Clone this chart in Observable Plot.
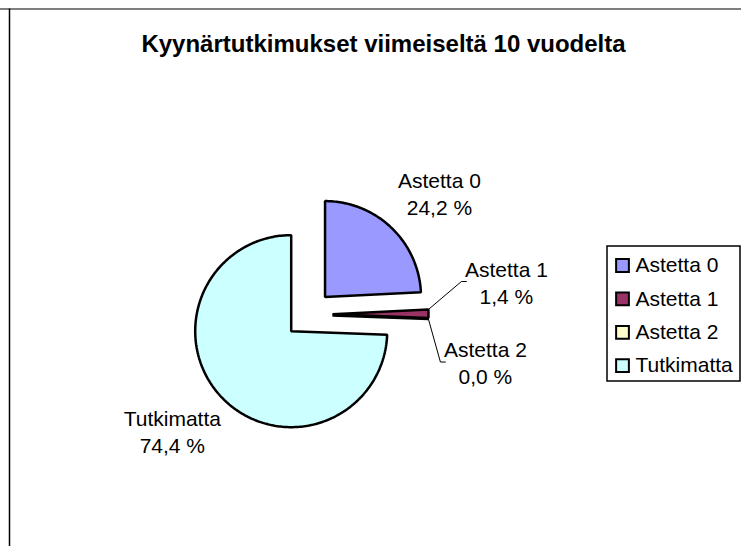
<!DOCTYPE html>
<html><head><meta charset="utf-8">
<script src="https://cdn.jsdelivr.net/npm/d3@7"></script>
<script src="https://cdn.jsdelivr.net/npm/@observablehq/plot@0.6"></script>
<style>body{margin:0;background:#fff;font-family:"Liberation Sans",Arial,sans-serif}</style>
</head><body><div id="chart"></div>
<script>
const title = "Kyynärtutkimukset viimeiseltä 10 vuodelta";
const categories = ["Astetta 0", "Astetta 1", "Astetta 2", "Tutkimatta"];
const percents = [24.2, 1.4, 0.0, 74.4];
const colors = ["#9999FF", "#993366", "#FFFFCC", "#CCFFFF"];

// layout
const W = 741, H = 546;
const cx = 308, cy = 314, R = 96, explode = 24;
const labelDist = 155, labelTurn = 4 * Math.PI / 180;
const leaderLayout = {"Astetta 1": [33, -28], "Astetta 2": [12, 43]};
const fmt = v => v.toFixed(1).replace(".", ",") + " %";

const arcs = d3.pie().sort(null).value(d => d)(percents);
const pt = (x0, y0, a, r) => [x0 + r * Math.sin(a), y0 - r * Math.cos(a)];

const slicePts = [];
const labels = [];
const leaders = [];
arcs.forEach((a, i) => {
  const cat = categories[i];
  const mid = (a.startAngle + a.endAngle) / 2;
  const [ox, oy] = pt(cx, cy, mid, explode);
  slicePts.push({cat, x: ox, y: oy});
  const n = Math.max(1, Math.ceil((a.endAngle - a.startAngle) / (Math.PI / 180)));
  for (let k = 0; k <= n; k++) {
    const t = a.startAngle + (a.endAngle - a.startAngle) * k / n;
    const [x, y] = pt(ox, oy, t, R);
    slicePts.push({cat, x, y});
  }
  const text = cat + "\n" + fmt(percents[i]);
  if (leaderLayout[cat]) {
    const [sx, sy] = pt(ox, oy, a.startAngle, R);
    const [dx, dy] = leaderLayout[cat];
    const ex = sx + dx, ey = sy + dy;
    leaders.push({cat, x: sx, y: sy}, {cat, x: ex, y: ey}, {cat, x: ex + 5, y: ey});
    labels.push({x: ex + 45, y: ey, text});
  } else {
    const [lx, ly] = pt(ox, oy, mid + labelTurn, labelDist);
    labels.push({x: lx, y: ly, text});
  }
});

const legendY = (d, i) => 265 + i * 33.4;

const chart = Plot.plot({
  width: W, height: H, margin: 0,
  x: {domain: [0, W], range: [0, W], axis: null},
  y: {domain: [0, H], range: [0, H], axis: null},
  color: {domain: categories, range: colors},
  style: {fontFamily: '"Liberation Sans", Arial, sans-serif', background: "white", color: "black"},
  marks: [
    Plot.ruleY([8.5], {stroke: "#555", strokeWidth: 1.5}),
    Plot.ruleX([9], {y1: 8.5, y2: H, stroke: "#000", strokeWidth: 1.5}),
    Plot.text([title], {x: 383, y: 44, text: d => d, fontSize: 24, fontWeight: "bold", fill: "black"}),
    Plot.line(slicePts, {x: "x", y: "y", z: "cat", fill: "cat", stroke: "black", strokeWidth: 2.5, curve: "linear-closed", strokeLinejoin: "miter"}),
    Plot.line(leaders, {x: "x", y: "y", z: "cat", stroke: "black", strokeWidth: 1}),
    Plot.text(labels, {x: "x", y: "y", text: "text", fontSize: 21, lineHeight: 1.3, fill: "black"}),
    Plot.rect([0], {x1: 607, x2: 740, y1: 246, y2: 381, fill: "white", stroke: "black", strokeWidth: 1.5}),
    Plot.dot(categories, {x: 622, y: legendY, symbol: "square", r: 7.2, fill: d => d, stroke: "black", strokeWidth: 2}),
    Plot.text(categories, {x: 635, y: legendY, text: d => d, textAnchor: "start", fontSize: 21, fill: "black"})
  ]
});
document.getElementById("chart").appendChild(chart);
</script>
</body></html>
